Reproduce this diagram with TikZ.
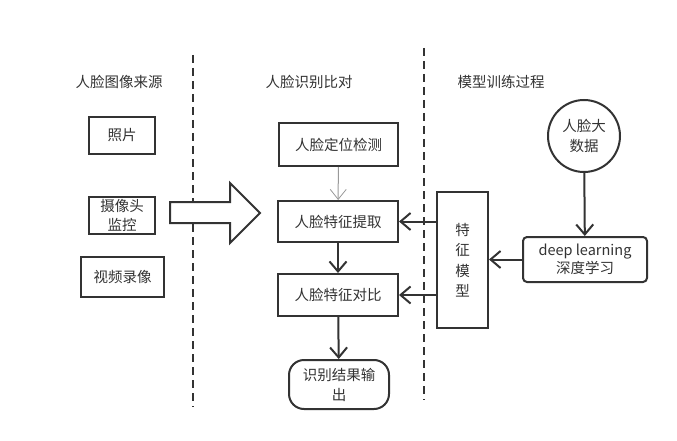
\documentclass[tikz,border=0pt]{standalone}
\usepackage{fontspec}
\setmainfont{Noto Sans CJK SC}
\usetikzlibrary{arrows.meta}
\definecolor{ink}{HTML}{333333}
\definecolor{soft}{HTML}{999999}
\tikzset{
  box/.style={draw=ink, line width=2pt, fill=white, inner sep=0pt, align=center, text=ink, font=\fontsize{14.5}{19}\selectfont},
  lbl/.style={inner sep=0pt, text=ink, font=\fontsize{14.5}{19}\selectfont},
  conn/.style={draw=ink, line width=2pt, -{Straight Barb[length=10pt,width=17pt,line width=2pt]}},
  thinconn/.style={draw=soft, line width=1pt, -{Straight Barb[length=10pt,width=16pt,line width=0.8pt]}},
  divider/.style={draw=ink, line width=2pt, dash pattern=on 8pt off 5pt},
}
\begin{document}
\begin{tikzpicture}[x=1pt,y=-1pt]
\useasboundingbox (0,0) rectangle (677,441);
% dividers
\coordinate (d1t) at (193,55); \coordinate (d1b) at (193,407);
\coordinate (d2t) at (424,48); \coordinate (d2b) at (424,400);
\draw[divider] (d1t) -- (d1b);
\draw[divider] (d2t) -- (d2b);
% titles
\node[lbl] (t1) at (119,82) {人脸图像来源};
\node[lbl] (t2) at (309,82) {人脸识别比对};
\node[lbl] (t3) at (501,82) {模型训练过程};
% sources
\node[box, minimum width=66pt, minimum height=37pt] (photo) at (122,135.5) {照片};
\node[box, minimum width=66pt, minimum height=37pt] (cam) at (122,215.5) {摄像头\\监控};
\node[box, minimum width=83pt, minimum height=40pt] (video) at (122.5,277) {视频录像};
% big arrow
\draw[draw=ink, line width=2pt, fill=white, line join=miter] (170,202) -- (230,202) -- (230,183) -- (260,213) -- (230,243) -- (230,223) -- (170,223) -- cycle;
% recognition column
\node[box, minimum width=119pt, minimum height=43pt] (detect) at (338.5,144.5) {人脸定位检测};
\node[box, minimum width=120pt, minimum height=41pt] (extract) at (338,221.5) {人脸特征提取};
\node[box, minimum width=120pt, minimum height=42pt] (compare) at (338,295) {人脸特征对比};
\node[box, rounded corners=15pt, minimum width=100pt, minimum height=49pt, font=\fontsize{14.5}{20}\selectfont] (out) at (339,384.5) {识别结果输\\出};
% training column
\node[box, minimum width=51pt, minimum height=136pt, font=\fontsize{14.5}{20.5}\selectfont] (model) at (462.5,260) {特\\征\\模\\型};
\node[box, rounded corners=4pt, minimum width=124pt, minimum height=45pt, font=\fontsize{14.5}{18}\selectfont] (deep) at (585,259.5) {deep learning\\深度学习};
\node[box, circle, minimum size=72pt, font=\fontsize{14.5}{20}\selectfont] (data) at (584,136) {人脸大\\数据};
% connectors
\draw[thinconn] (detect) -- (extract);
\draw[conn] (extract) -- (compare);
\draw[conn] (compare) -- (out);
\draw[conn] (data) -- (deep);
\draw[conn] (deep.west) -- (model.east |- deep.west);
\draw[conn] (model.west |- extract.east) -- (extract.east);
\draw[conn] (model.west |- compare.east) -- (compare.east);
\end{tikzpicture}
\end{document}
